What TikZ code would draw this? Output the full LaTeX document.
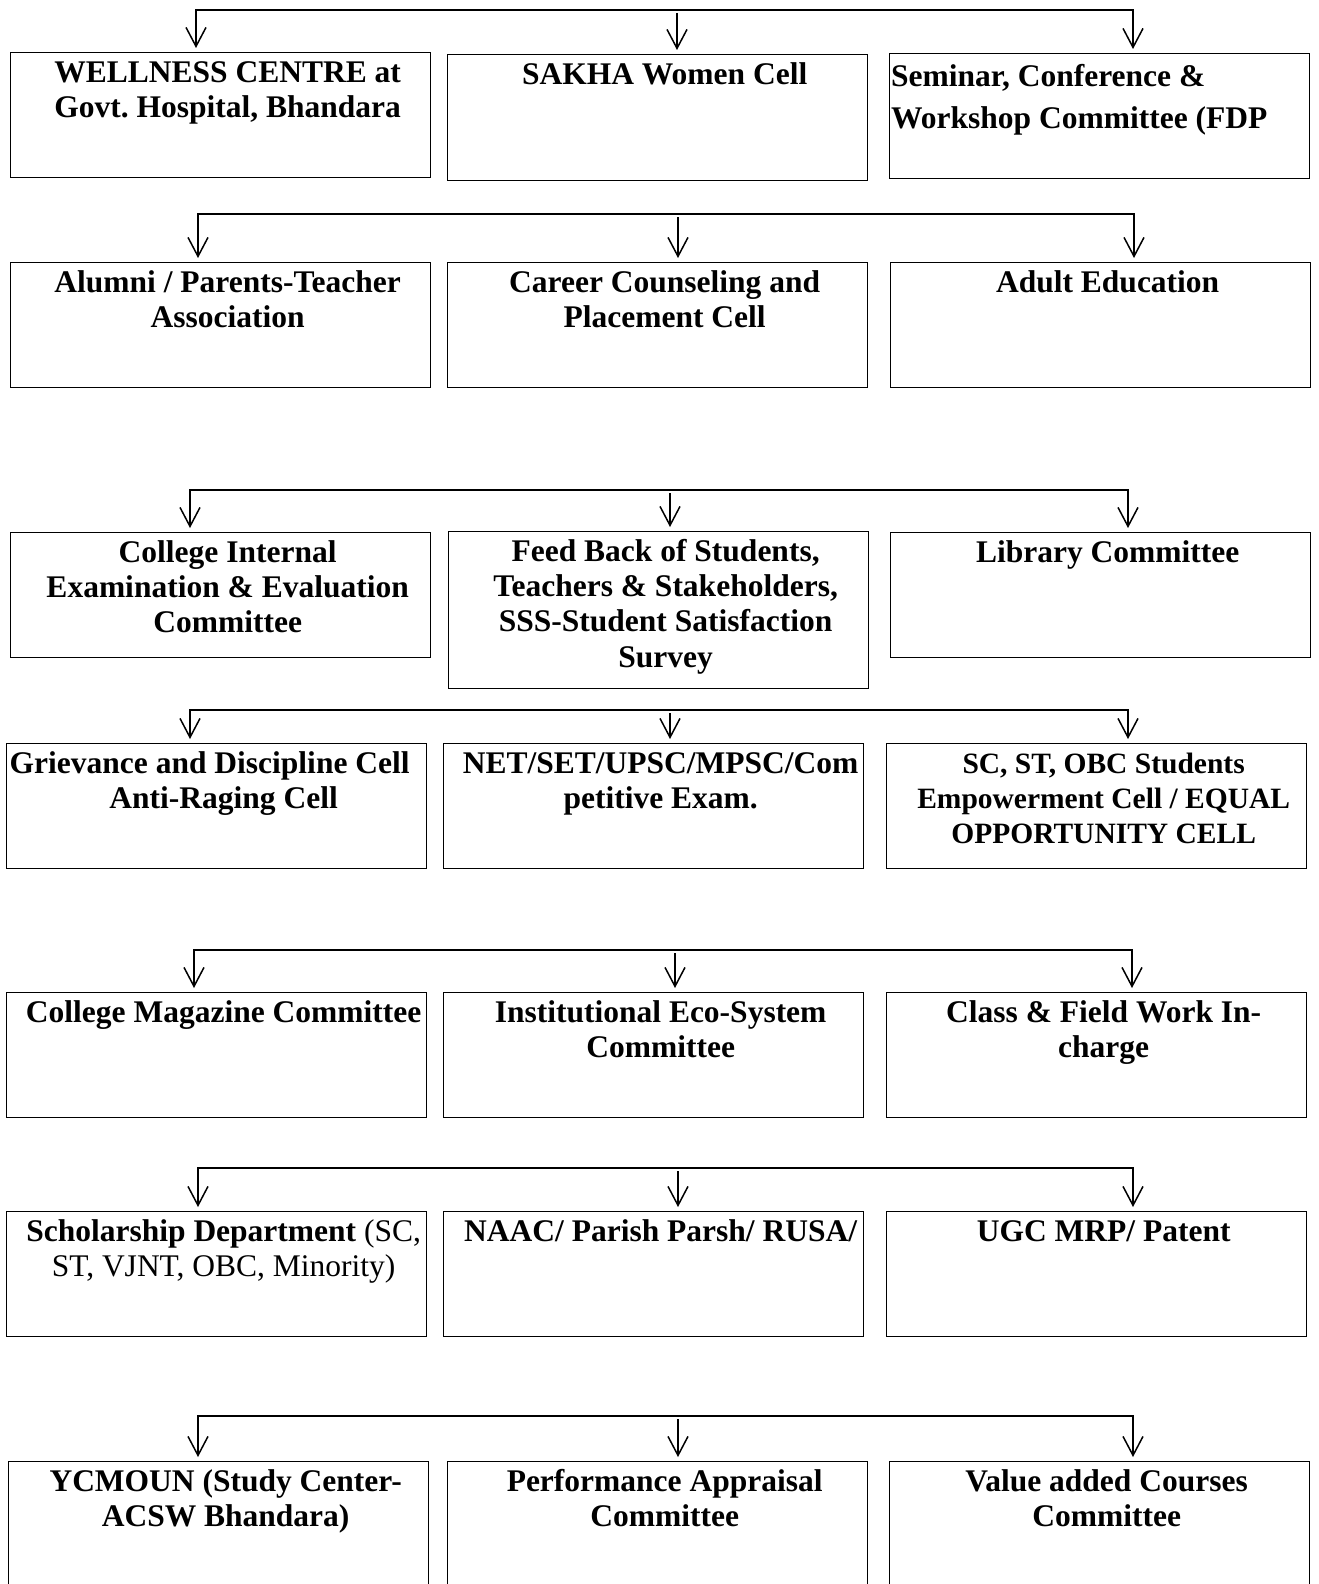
\documentclass[tikz,border=0pt]{standalone}
\usepackage{fontspec}
\setmainfont{Liberation Serif}
\usetikzlibrary{arrows.meta}
\tikzset{
  kom/.style={draw, line width=1.3bp, anchor=north west, minimum width=420bp, minimum height=125bp, inner sep=0pt},
  txt/.style={anchor=north, inner sep=0pt, align=center, font=\fontsize{31.5bp}{35.3bp}\selectfont\bfseries},
  grot/.tip={Straight Barb[length=19bp,width=20bp]},
  belka/.style={line width=1.5bp, grot-grot, shorten <=4bp, shorten >=4bp},
  strz/.style={line width=1.5bp, -grot, shorten >=4bp}
}
\begin{document}
\begin{tikzpicture}[x=1bp,y=-1bp]
	\useasboundingbox (0,0) rectangle (1319,1584);

	\foreach \y/\a/\b/\c [count=\i] in {10/196/677/1133, 214/198/678/1134, 490/190/670/1128, 710/190/670/1128, 950/194/675/1132, 1168/198/678/1133, 1416/198/678/1133} {
	    \coordinate (l\i) at (\a,\y);
	    \coordinate (m\i) at (\b,\y);
	    \coordinate (r\i) at (\c,\y);
	}

	% rzad 1
	\node[kom] (a1) at (10,52) {};
	\node[kom, minimum height=126bp] (b1) at (447,54) {};
	\node[kom] (c1) at (889,53) {};
	\node[txt] (ta1) at ([xshift=7bp,yshift=-5.3bp]a1.north) {\strut WELLNESS CENTRE at\\Govt.\ Hospital, Bhandara};
	\node[txt] (tb1) at ([xshift=7bp,yshift=-5.3bp]b1.north) {\strut SAKHA Women Cell};
	\node[txt, anchor=north west, align=left, font=\fontsize{31.5bp}{42bp}\selectfont\bfseries] (tc1) at ([xshift=2bp,yshift=-3.6bp]c1.north west) {\strut Seminar, Conference \&\\Workshop Committee (FDP};

	% rzad 2
	\node[kom] (a2) at (10,262) {};
	\node[kom] (b2) at (447,262) {};
	\node[kom] (c2) at (890,262) {};
	\node[txt] (ta2) at ([xshift=7bp,yshift=-5.3bp]a2.north) {\strut Alumni / Parents-Teacher\\Association};
	\node[txt] (tb2) at ([xshift=7bp,yshift=-5.3bp]b2.north) {\strut Career Counseling and\\Placement Cell};
	\node[txt] (tc2) at ([xshift=7bp,yshift=-5.3bp]c2.north) {\strut Adult Education};

	% rzad 3
	\node[kom] (a3) at (10,532) {};
	\node[kom, minimum height=157bp] (b3) at (448,531) {};
	\node[kom] (c3) at (890,532) {};
	\node[txt] (ta3) at ([xshift=7bp,yshift=-5.3bp]a3.north) {\strut College Internal\\Examination \& Evaluation\\Committee};
	\node[txt] (tb3) at ([xshift=7bp,yshift=-5.3bp]b3.north) {\strut Feed Back of Students,\\Teachers \& Stakeholders,\\SSS-Student Satisfaction\\Survey};
	\node[txt] (tc3) at ([xshift=7bp,yshift=-5.3bp]c3.north) {\strut Library Committee};

	% rzad 4
	\node[kom] (a4) at (6,743) {};
	\node[kom] (b4) at (443,743) {};
	\node[kom] (c4) at (886,743) {};
	\node[txt] (ta4) at ([xshift=7bp,yshift=-5.3bp]a4.north) {\strut Grievance and Discipline Cell\hspace*{28bp}\\Anti-Raging Cell};
	\node[txt] (tb4) at ([xshift=7bp,yshift=-5.3bp]b4.north) {\strut NET/SET/UPSC/MPSC/Com\\petitive Exam.};
	\node[txt, font=\fontsize{29.5bp}{35.3bp}\selectfont\bfseries] (tc4) at ([xshift=7bp,yshift=-5.3bp]c4.north) {\strut SC, ST, OBC Students\\Empowerment Cell / EQUAL\\OPPORTUNITY CELL};

	% rzad 5
	\node[kom] (a5) at (6,992) {};
	\node[kom] (b5) at (443,992) {};
	\node[kom] (c5) at (886,992) {};
	\node[txt] (ta5) at ([xshift=7bp,yshift=-5.3bp]a5.north) {\strut College Magazine Committee};
	\node[txt] (tb5) at ([xshift=7bp,yshift=-5.3bp]b5.north) {\strut Institutional Eco-System\\Committee};
	\node[txt] (tc5) at ([xshift=7bp,yshift=-5.3bp]c5.north) {\strut Class \& Field Work In-\\charge};

	% rzad 6
	\node[kom] (a6) at (6,1211) {};
	\node[kom] (b6) at (443,1211) {};
	\node[kom] (c6) at (886,1211) {};
	\node[txt] (ta6) at ([xshift=7bp,yshift=-5.3bp]a6.north) {\strut Scholarship Department {\mdseries (SC,}\\{\mdseries ST, VJNT, OBC, Minority)}};
	\node[txt] (tb6) at ([xshift=7bp,yshift=-5.3bp]b6.north) {\strut NAAC/ Parish Parsh/ RUSA/};
	\node[txt] (tc6) at ([xshift=7bp,yshift=-5.3bp]c6.north) {\strut UGC MRP/ Patent};

	% rzad 7
	\node[kom, minimum height=150bp] (a7) at (8,1461) {};
	\node[kom, minimum height=150bp] (b7) at (447,1461) {};
	\node[kom, minimum height=150bp] (c7) at (889,1461) {};
	\node[txt] (ta7) at ([xshift=7bp,yshift=-5.3bp]a7.north) {\strut YCMOUN (Study Center-\\ACSW Bhandara)};
	\node[txt] (tb7) at ([xshift=7bp,yshift=-5.3bp]b7.north) {\strut Performance Appraisal\\Committee};
	\node[txt] (tc7) at ([xshift=7bp,yshift=-5.3bp]c7.north) {\strut Value added Courses\\Committee};

	% strzalki
	\foreach \i in {1,...,7} {
	    \draw[belka] (l\i |- a\i.north) -- (l\i) -- (r\i) -- (r\i |- c\i.north);
	    \draw[strz] ([yshift=-3bp]m\i) -- (m\i |- b\i.north);
	}
\end{tikzpicture}
\end{document}
